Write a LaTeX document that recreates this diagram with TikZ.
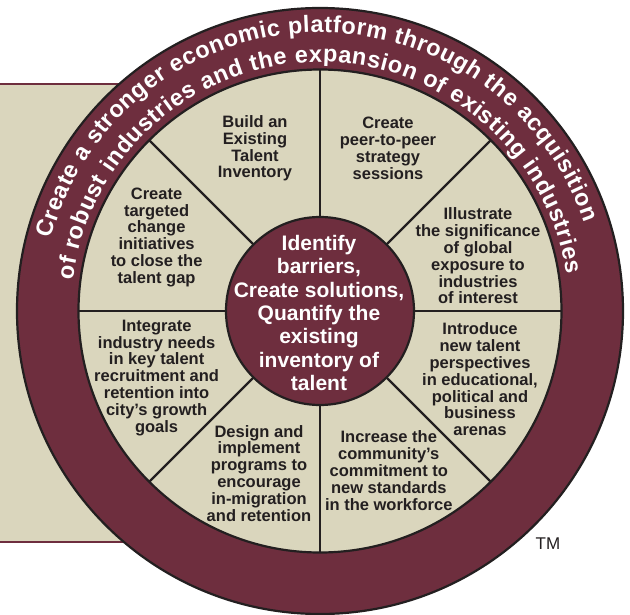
\documentclass[tikz,border=0pt]{standalone}
\usepackage{fontspec}
\setmainfont{Liberation Sans}
\usetikzlibrary{decorations.text}
\definecolor{maroon}{RGB}{110,46,62}
\definecolor{beige}{RGB}{218,214,189}
\definecolor{ink}{RGB}{35,31,32}
\begin{document}
\begin{tikzpicture}[x=1pt,y=1pt,
  seg/.style={align=center, text=ink, font=\fontsize{16.5}{16.8}\selectfont\bfseries, inner sep=0pt},
  hubtext/.style={align=center, text=white, font=\fontsize{21}{23.4}\selectfont\bfseries, inner sep=0pt},
  disc/.style={circle, draw=ink, line width=2.2pt, inner sep=0pt, outer sep=0pt},
  spoke/.style={draw=ink, line width=2.2pt},
  panelline/.style={draw=maroon, line width=2.5pt},
  arctext/.style={decorate, decoration={text along path, text color=white,
      text={|\fontsize{23.5}{23.5}\selectfont\bfseries|#1}, text align={fit to path}}}
]
\useasboundingbox (-320,-303) rectangle (310,311);
% background panel
\fill[beige] (-320,-231) rectangle (0,227);
\coordinate (ptl) at (-320,227);
\coordinate (ptr) at (0,227);
\coordinate (pbl) at (-320,-231);
\coordinate (pbr) at (0,-231);
\draw[panelline] (ptl) -- (ptr);
\draw[panelline] (pbl) -- (pbr);
% discs
\node[disc, fill=maroon, minimum size=606pt] (outer) at (0,0) {};
\node[disc, fill=beige, minimum size=483pt] (ring) at (0,0) {};
\node[disc, fill=maroon, minimum size=188pt] (hub) at (0,0) {};
\foreach \a in {0,45,...,315} \draw[spoke] (hub.\a) -- (ring.\a);
% arc texts
\path[arctext={Create a stronger economic platform through the acquisition}]
  (165:278.5pt) arc[start angle=165, end angle=18.5, radius=278.5pt];
\path[arctext={of robust industries and the expansion of existing industries}]
  (173:249pt) arc[start angle=173, end angle=8.5, radius=249pt];
% hub text
\node[hubtext] (htxt) at (-1,-2) {Identify\\barriers,\\Create solutions,\\Quantify the\\existing\\inventory of\\talent};
% segment texts
\node[seg] (s1) at (-65,162.6) {Build an\\Existing\\Talent\\Inventory};
\node[seg] (s2) at (68,162.6) {Create\\peer-to-peer\\strategy\\sessions};
\node[seg] (s3) at (158,55) {Illustrate\\the significance\\of global\\exposure to\\industries\\of interest};
\node[seg] (s4) at (160,-68.4) {Introduce\\new talent\\perspectives\\in educational,\\political and\\business\\arenas};
\node[seg] (s5) at (68.8,-159.6) {Increase the\\community’s\\commitment to\\new standards\\in the workforce};
\node[seg] (s6) at (-61,-162.2) {Design and\\implement\\programs to\\encourage\\in-migration\\and retention};
\node[seg] (s7) at (-163.4,-66.7) {Integrate\\industry needs\\in key talent\\recruitment and\\retention into\\city’s growth\\goals};
\node[seg] (s8) at (-163.4,73.7) {Create\\targeted\\change\\initiatives\\to close the\\talent gap};
% trademark
\node[text=ink, font=\fontsize{17}{17}\selectfont, inner sep=0pt] (tm) at (228,-233) {TM};
\end{tikzpicture}
\end{document}
